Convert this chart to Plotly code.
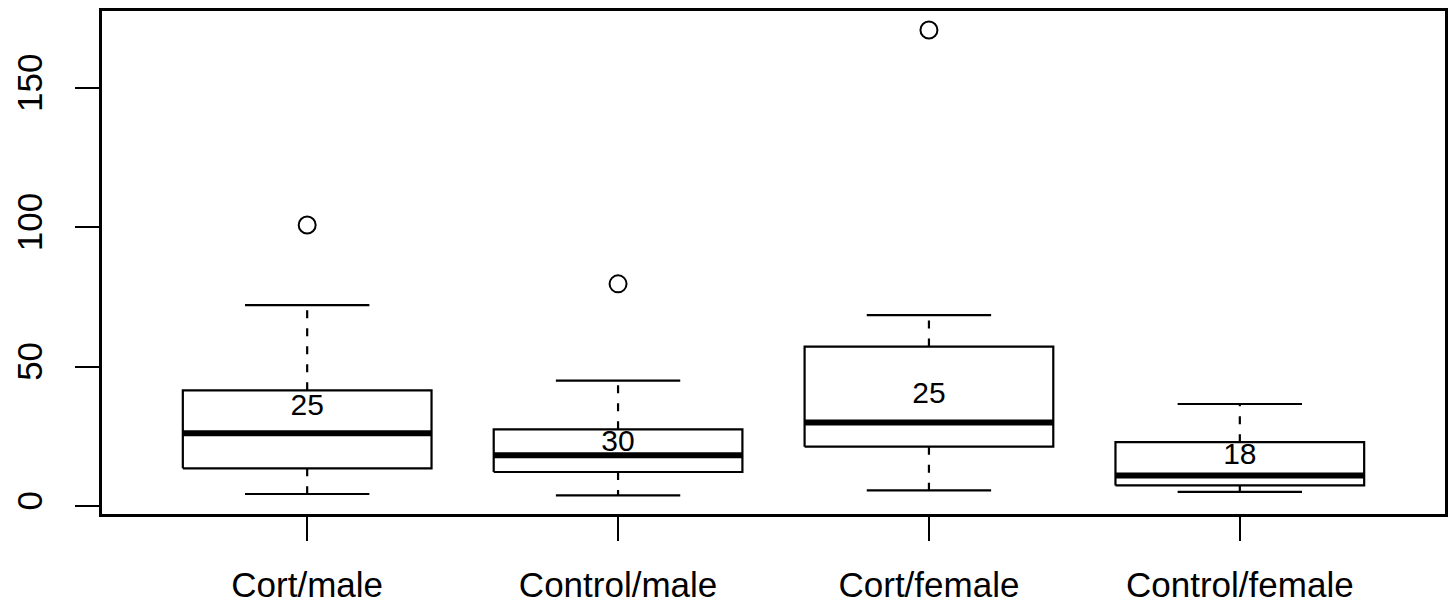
import plotly.graph_objects as go

groups = ["Cort/male", "Control/male", "Cort/female", "Control/female"]
lower_whisker = [4.3, 3.8, 5.6, 5.1]
q1 = [13.5, 12.2, 21.3, 7.4]
median = [26.1, 18.2, 30.0, 10.9]
q3 = [41.5, 27.5, 57.2, 22.9]
upper_whisker = [72.1, 45.0, 68.5, 36.6]
outliers = [[100.8], [79.7], [170.8], []]
counts = [25, 30, 25, 18]
group_means = [35.2, 22.6, 39.8, 17.9]
y_ticks = [0, 50, 100, 150]

HALF_BOX = 0.4
HALF_CAP = 0.2
FONT = "Liberation Sans, Arial, Helvetica, sans-serif"

fig = go.Figure()

for i, g in enumerate(groups):
    x = i + 1
    # box
    fig.add_trace(go.Scatter(
        x=[x - HALF_BOX, x + HALF_BOX, x + HALF_BOX, x - HALF_BOX, x - HALF_BOX],
        y=[q1[i], q1[i], q3[i], q3[i], q1[i]],
        mode="lines", line=dict(color="black", width=2.2),
        fill="toself", fillcolor="white", showlegend=False, hoverinfo="skip"))
    # whiskers (dashed)
    fig.add_trace(go.Scatter(
        x=[x, x, None, x, x],
        y=[q3[i], upper_whisker[i], None, q1[i], lower_whisker[i]],
        mode="lines", line=dict(color="black", width=2.2, dash="8px,10px"),
        showlegend=False, hoverinfo="skip"))
    # caps
    fig.add_trace(go.Scatter(
        x=[x - HALF_CAP, x + HALF_CAP, None, x - HALF_CAP, x + HALF_CAP],
        y=[upper_whisker[i], upper_whisker[i], None, lower_whisker[i], lower_whisker[i]],
        mode="lines", line=dict(color="black", width=2.2),
        showlegend=False, hoverinfo="skip"))
    # median
    fig.add_trace(go.Scatter(
        x=[x - HALF_BOX, x + HALF_BOX], y=[median[i], median[i]],
        mode="lines", line=dict(color="black", width=6),
        showlegend=False, hoverinfo="skip"))
    # outliers
    if outliers[i]:
        fig.add_trace(go.Scatter(
            x=[x] * len(outliers[i]), y=outliers[i], mode="markers",
            marker=dict(symbol="circle-open", size=17, color="black", line=dict(width=2)),
            showlegend=False, hoverinfo="skip"))
    # count label
    fig.add_trace(go.Scatter(
        x=[x], y=[group_means[i]], mode="text", text=[str(counts[i])],
        textposition="middle center",
        textfont=dict(family=FONT, size=30, color="black"),
        showlegend=False, hoverinfo="skip"))

fig.update_layout(
    width=1453, height=613,
    margin=dict(l=102, r=8, t=11, b=99, pad=0),
    paper_bgcolor="white", plot_bgcolor="white",
    font=dict(family=FONT, color="black"),
)
fig.update_xaxes(
    range=[0.34, 4.66], tickmode="array", tickvals=[1, 2, 3, 4], ticktext=groups,
    ticks="outside", ticklen=24, tickwidth=1.5, tickcolor="black",
    showline=True, mirror=True, linecolor="black", linewidth=2.5,
    showgrid=False, zeroline=False, automargin=False,
    tickfont=dict(family=FONT, size=35, color="black"), ticklabelstandoff=14,
)
fig.update_yaxes(
    range=[-2.87, 177.6], tickmode="array", tickvals=y_ticks,
    ticks="outside", ticklen=24, tickwidth=1.5, tickcolor="black", tickangle=-90,
    showline=True, mirror=True, linecolor="black", linewidth=2.5,
    showgrid=False, zeroline=False, automargin=False,
    tickfont=dict(family=FONT, size=35, color="black"), ticklabelstandoff=19,
)

fig.write_html("out.html",
               config={"displayModeBar": False},
               post_script="document.body.style.margin='0';document.body.style.overflow='hidden';")
